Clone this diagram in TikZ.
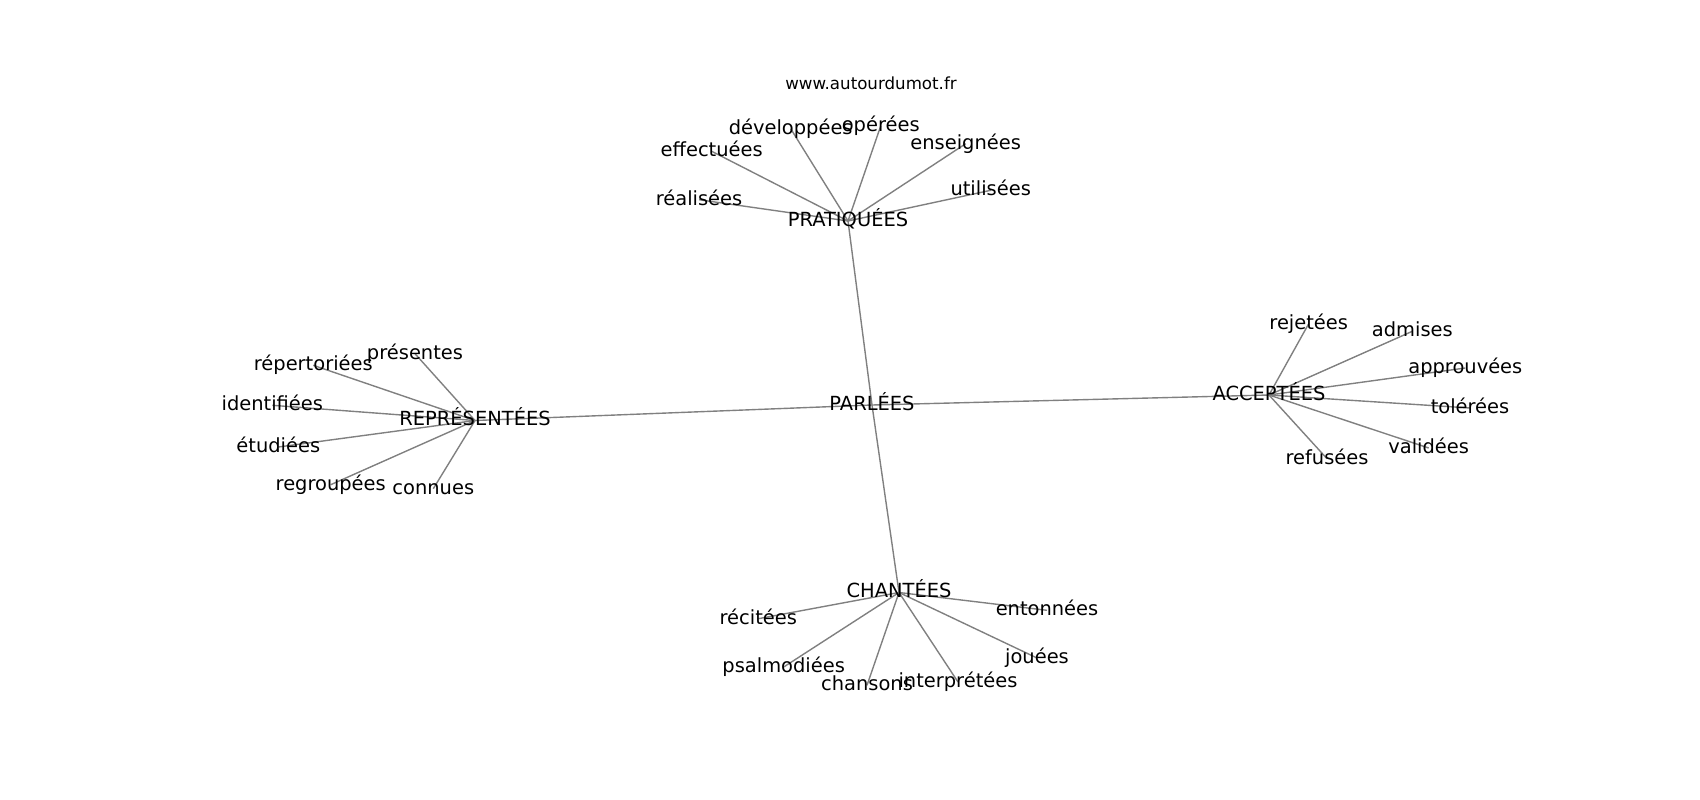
\documentclass[tikz,border=0pt]{standalone}
\usepackage{fontspec}
\setmainfont{DejaVu Sans}
\pgfdeclarelayer{bg}
\pgfsetlayers{bg,main}
\begin{document}
\begin{tikzpicture}[x=0.72bp,y=-0.72bp,
  lbl/.style={font=\fontsize{14bp}{16bp}\selectfont, inner sep=0pt, text height=10.64bp, text depth=2.9bp, anchor=center},
  ttl/.style={font=\fontsize{12bp}{14bp}\selectfont, inner sep=0pt, text height=9.12bp, text depth=2.5bp, anchor=center},
  edge/.style={draw=gray, line width=1bp}]
\useasboundingbox (0,0) rectangle (1700,800);
\begin{scope}[shift={(0,2)}]
\node[ttl] (title) at (871,83) {www.autourdumot.fr};
% hubs
\node[lbl] (parl) at (872,403) {PARLÉES};
\node[lbl] (prat) at (848,219) {PRATIQUÉES};
\node[lbl] (repr) at (475,418.5) {REPRÉSENTÉES};
\node[lbl] (acc) at (1269,393) {ACCEPTÉES};
\node[lbl] (chan) at (899,590.5) {CHANTÉES};
% leaves of PRATIQUÉES
\node[lbl] (dev) at (790.7,126.7) {développées};
\node[lbl] (ope) at (880.7,124) {opérées};
\node[lbl] (eff) at (711.7,149.3) {effectuées};
\node[lbl] (ens) at (965.7,141.7) {enseignées};
\node[lbl] (rea) at (699,197.7) {réalisées};
\node[lbl] (uti) at (990.7,188.3) {utilisées};
% leaves of REPRÉSENTÉES
\node[lbl] (pre) at (415,351.7) {présentes};
\node[lbl] (rep) at (313.3,363.3) {répertoriées};
\node[lbl] (ide) at (272.3,403.3) {identifiées};
\node[lbl] (etu) at (278.3,445) {étudiées};
\node[lbl] (reg) at (330.7,482.7) {regroupées};
\node[lbl] (con) at (433.3,486.7) {connues};
% leaves of ACCEPTÉES
\node[lbl] (rej) at (1308.7,321.7) {rejetées};
\node[lbl] (adm) at (1412.3,329.3) {admises};
\node[lbl] (app) at (1465.3,366) {approuvées};
\node[lbl] (tol) at (1470,406) {tolérées};
\node[lbl] (val) at (1428.7,446) {validées};
\node[lbl] (ref) at (1327,456.7) {refusées};
% leaves of CHANTÉES
\node[lbl] (rec) at (758.3,616.7) {récitées};
\node[lbl] (ent) at (1047,608.3) {entonnées};
\node[lbl] (jou) at (1037,656) {jouées};
\node[lbl] (psa) at (783.7,665) {psalmodiées};
\node[lbl] (chs) at (867,683.3) {chansons};
\node[lbl] (int) at (958,680) {interprétées};
\end{scope}
\begin{pgfonlayer}{bg}
\fill[white] (0,0) rectangle (1700,800);
\foreach \a/\b in {parl/prat,parl/repr,parl/acc,parl/chan,
  prat/dev,prat/ope,prat/eff,prat/ens,prat/rea,prat/uti,
  repr/pre,repr/rep,repr/ide,repr/etu,repr/reg,repr/con,
  acc/rej,acc/adm,acc/app,acc/tol,acc/val,acc/ref,
  chan/rec,chan/ent,chan/jou,chan/psa,chan/chs,chan/int}
  \draw[edge] (\a.center) -- (\b.center);
\end{pgfonlayer}
\end{tikzpicture}
\end{document}
